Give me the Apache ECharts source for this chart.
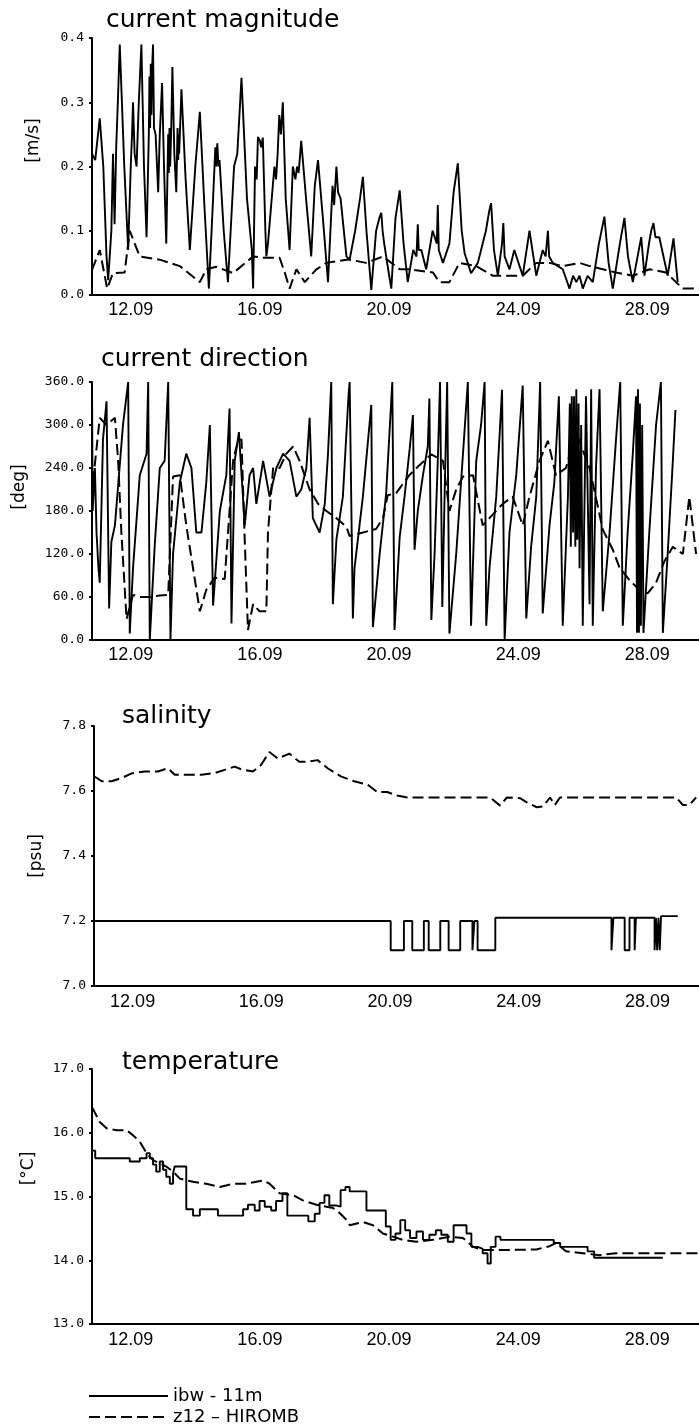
<!DOCTYPE html>
<html>
<head>
<meta charset="utf-8">
<script src="https://cdn.jsdelivr.net/npm/echarts@6/dist/echarts.min.js"></script>
<style>
html,body{margin:0;padding:0;background:#fff;}
#chart{width:699px;height:1425px;}
</style>
</head>
<body>
<div id="chart"></div>
<script>
// ---- axis / label data ----
const dayTicks = [12, 16, 20, 24, 28];          // September days labelled on x axes
const xMin = 10.8, xMax = 29.6;                 // day range of the time axis
const seriesNames = ['ibw - 11m', 'z12 – HIROMB'];
const panelTitles = ['current magnitude', 'current direction', 'salinity', 'temperature'];
const unitNames = ['[m/s]', '[deg]', '[psu]', '[°C]'];

// ---- current magnitude [m/s] : [day of Sept, value] ----
const magObs = [[10.8,0.0],[10.8,0.22],[10.9,0.21],[11.04,0.275],[11.15,0.2],[11.25,0.06],[11.3,0.023],[11.4,0.1],[11.45,0.22],[11.5,0.11],[11.55,0.23],[11.6,0.3],[11.66,0.39],[11.8,0.2],[11.92,0.07],[12.0,0.2],[12.04,0.25],[12.07,0.3],[12.12,0.22],[12.18,0.2],[12.25,0.3],[12.33,0.39],[12.41,0.2],[12.49,0.09],[12.56,0.25],[12.58,0.34],[12.6,0.26],[12.62,0.36],[12.64,0.28],[12.66,0.35],[12.69,0.39],[12.72,0.26],[12.77,0.25],[12.85,0.16],[12.9,0.25],[12.97,0.33],[13.03,0.2],[13.1,0.08],[13.16,0.25],[13.18,0.19],[13.2,0.26],[13.22,0.2],[13.25,0.25],[13.29,0.355],[13.35,0.22],[13.41,0.16],[13.45,0.26],[13.47,0.21],[13.49,0.25],[13.5,0.22],[13.57,0.32],[13.7,0.18],[13.83,0.07],[14.0,0.2],[14.14,0.285],[14.28,0.14],[14.42,0.01],[14.55,0.15],[14.62,0.23],[14.65,0.2],[14.68,0.236],[14.72,0.2],[14.75,0.21],[14.88,0.1],[15.01,0.02],[15.2,0.2],[15.3,0.22],[15.43,0.338],[15.6,0.15],[15.75,0.07],[15.79,0.01],[15.85,0.2],[15.9,0.18],[15.94,0.246],[16.0,0.24],[16.04,0.23],[16.09,0.245],[16.17,0.1],[16.2,0.06],[16.25,0.08],[16.45,0.2],[16.5,0.18],[16.55,0.22],[16.6,0.28],[16.65,0.25],[16.71,0.3],[16.8,0.15],[16.92,0.07],[17.02,0.2],[17.1,0.18],[17.15,0.2],[17.2,0.19],[17.28,0.24],[17.43,0.15],[17.59,0.06],[17.7,0.17],[17.8,0.21],[17.95,0.12],[18.11,0.02],[18.25,0.17],[18.3,0.14],[18.37,0.2],[18.42,0.16],[18.5,0.15],[18.68,0.06],[18.78,0.055],[18.95,0.1],[19.1,0.15],[19.19,0.184],[19.3,0.1],[19.45,0.008],[19.6,0.1],[19.7,0.12],[19.76,0.128],[19.8,0.1],[19.85,0.08],[19.96,0.044],[20.07,0.01],[20.2,0.12],[20.33,0.163],[20.45,0.08],[20.58,0.02],[20.75,0.07],[20.85,0.06],[20.89,0.11],[20.92,0.07],[21.0,0.07],[21.15,0.04],[21.35,0.1],[21.48,0.08],[21.51,0.14],[21.54,0.07],[21.56,0.07],[21.67,0.05],[21.87,0.08],[22.0,0.16],[22.13,0.205],[22.25,0.1],[22.34,0.065],[22.54,0.034],[22.75,0.05],[23.0,0.1],[23.1,0.13],[23.16,0.143],[23.25,0.07],[23.37,0.03],[23.5,0.08],[23.54,0.112],[23.58,0.06],[23.73,0.04],[23.88,0.07],[24.14,0.03],[24.35,0.1],[24.56,0.03],[24.76,0.07],[24.85,0.06],[24.92,0.1],[24.96,0.06],[25.07,0.05],[25.38,0.04],[25.59,0.01],[25.7,0.03],[25.8,0.02],[25.9,0.03],[26.0,0.01],[26.15,0.03],[26.31,0.02],[26.5,0.08],[26.67,0.122],[26.8,0.05],[26.93,0.01],[27.15,0.08],[27.29,0.12],[27.4,0.06],[27.55,0.02],[27.81,0.09],[27.91,0.03],[28.05,0.08],[28.12,0.1],[28.19,0.112],[28.25,0.09],[28.37,0.09],[28.63,0.03],[28.81,0.088],[28.94,0.02]];
const magModel = [[10.8,0.039],[11.04,0.07],[11.27,0.01],[11.45,0.034],[11.81,0.035],[11.97,0.1],[12.28,0.06],[12.9,0.055],[13.52,0.045],[14.14,0.02],[14.34,0.04],[14.65,0.044],[15.17,0.034],[15.79,0.06],[16.09,0.058],[16.3,0.058],[16.61,0.058],[16.77,0.035],[16.92,0.01],[17.13,0.04],[17.39,0.02],[17.75,0.04],[18.06,0.05],[18.68,0.055],[18.78,0.055],[19.29,0.05],[19.81,0.06],[20.33,0.04],[20.64,0.04],[21.36,0.035],[21.56,0.02],[21.87,0.02],[22.18,0.05],[22.7,0.045],[23.21,0.03],[23.52,0.03],[24.14,0.03],[24.56,0.05],[24.97,0.05],[25.38,0.045],[25.9,0.05],[26.21,0.045],[26.62,0.04],[27.03,0.035],[27.55,0.03],[28.07,0.04],[28.58,0.035],[28.89,0.02],[29.1,0.01],[29.6,0.01]];

// ---- current direction [deg] ----
const dirObs = [[10.8,360],[10.82,180],[10.89,240],[10.94,150],[11.0,100],[11.04,80],[11.14,280],[11.25,333],[11.33,44],[11.4,137],[11.51,160],[11.76,300],[11.92,360],[11.97,9],[12.07,100],[12.28,230],[12.49,260],[12.54,360],[12.59,0],[12.74,130],[12.9,240],[13.05,250],[13.16,360],[13.23,0],[13.31,120],[13.52,220],[13.72,260],[13.88,240],[14.03,150],[14.19,150],[14.34,220],[14.45,300],[14.55,48],[14.76,180],[14.96,230],[15.06,323],[15.12,23],[15.22,250],[15.35,290],[15.53,160],[15.68,230],[15.79,240],[15.89,190],[16.1,250],[16.3,200],[16.51,240],[16.72,260],[16.92,250],[17.13,200],[17.28,210],[17.44,240],[17.54,310],[17.64,170],[17.85,150],[18.01,190],[18.11,260],[18.21,360],[18.26,50],[18.37,140],[18.57,200],[18.75,345],[18.78,360],[18.88,30],[18.93,100],[19.19,200],[19.45,328],[19.5,18],[19.71,120],[19.91,204],[20.1,360],[20.17,14],[20.33,144],[20.48,200],[20.64,267],[20.74,314],[20.79,126],[20.89,180],[21.05,230],[21.2,270],[21.25,337],[21.31,28],[21.41,120],[21.51,250],[21.58,360],[21.65,46],[21.72,200],[21.8,360],[21.87,9],[22.08,120],[22.23,220],[22.44,360],[22.54,20],[22.7,250],[22.85,300],[22.96,360],[23.01,20],[23.11,100],[23.32,200],[23.5,349],[23.58,0],[23.73,150],[23.94,230],[24.14,355],[24.25,30],[24.4,130],[24.56,200],[24.68,360],[24.76,37],[24.97,160],[25.12,220],[25.26,340],[25.38,20],[25.54,200],[25.6,330],[25.63,130],[25.66,340],[25.7,150],[25.73,340],[25.77,130],[25.8,350],[25.83,140],[25.87,330],[25.9,100],[25.95,300],[26.0,20],[26.1,340],[26.21,50],[26.26,350],[26.31,20],[26.41,240],[26.52,350],[26.62,40],[26.83,150],[27.03,280],[27.16,360],[27.24,20],[27.39,150],[27.55,260],[27.65,340],[27.68,10],[27.71,350],[27.74,10],[27.77,330],[27.8,20],[27.84,300],[27.88,10],[28.06,150],[28.27,300],[28.42,360],[28.48,10],[28.63,120],[28.79,250],[28.87,321]];
const dirModel = [[10.83,220],[11.04,310],[11.25,300],[11.51,310],[11.61,250],[11.71,150],[11.87,29],[12.07,63],[12.28,60],[12.59,60],[12.9,62],[13.16,63],[13.31,228],[13.52,230],[13.72,160],[13.93,100],[14.14,40],[14.34,70],[14.6,87],[14.91,85],[15.17,250],[15.32,278],[15.43,280],[15.53,140],[15.63,14],[15.79,50],[15.99,40],[16.2,40],[16.25,150],[16.41,240],[16.61,240],[16.82,260],[17.03,270],[17.23,250],[17.54,210],[17.8,190],[18.06,180],[18.37,170],[18.68,158],[18.78,145],[19.6,155],[19.81,170],[19.96,202],[20.22,205],[20.63,230],[20.94,244],[21.31,259],[21.67,250],[21.87,180],[22.08,210],[22.29,228],[22.6,230],[22.9,160],[23.11,170],[23.52,190],[23.83,200],[24.14,160],[24.35,200],[24.66,250],[24.92,278],[25.17,230],[25.48,240],[25.79,290],[26.21,240],[26.62,154],[26.93,126],[27.13,102],[27.44,84],[27.75,70],[28.01,65],[28.27,80],[28.53,110],[28.79,130],[29.1,120],[29.3,200],[29.51,120]];

// ---- salinity [psu] (observations are stepped: segment start, value) ----
const salObs = [[10.8,7.2],[20.02,7.11],[20.43,7.2],[20.69,7.11],[21.05,7.2],[21.2,7.11],[21.56,7.2],[21.82,7.11],[22.18,7.2],[22.56,7.11],[22.62,7.2],[22.72,7.11],[23.27,7.21],[26.88,7.11],[26.94,7.21],[27.29,7.11],[27.44,7.21],[27.6,7.11],[27.64,7.21],[28.22,7.11],[28.26,7.21],[28.3,7.11],[28.34,7.21],[28.38,7.11],[28.42,7.215],[28.94,7.215]];
const salModel = [[10.8,7.645],[10.89,7.64],[11.04,7.63],[11.35,7.63],[11.66,7.64],[11.97,7.654],[12.38,7.66],[12.79,7.66],[13.1,7.67],[13.31,7.65],[13.72,7.65],[14.14,7.65],[14.55,7.655],[14.86,7.665],[15.17,7.675],[15.37,7.667],[15.74,7.66],[15.99,7.68],[16.25,7.72],[16.51,7.70],[16.87,7.715],[17.18,7.69],[17.44,7.69],[17.75,7.695],[18.06,7.67],[18.47,7.645],[18.88,7.63],[19.3,7.62],[19.6,7.597],[19.91,7.597],[20.22,7.586],[20.53,7.58],[22.49,7.58],[23.11,7.58],[23.42,7.555],[23.63,7.58],[24.04,7.578],[24.25,7.565],[24.56,7.55],[24.76,7.553],[24.97,7.58],[25.12,7.557],[25.28,7.58],[28.89,7.58],[29.1,7.557],[29.3,7.557],[29.51,7.58]];

// ---- temperature [°C] (observations are stepped: segment start, value) ----
const tempObs = [[10.8,15.72],[10.9,15.6],[11.97,15.55],[12.28,15.6],[12.49,15.68],[12.59,15.6],[12.69,15.5],[12.79,15.39],[12.9,15.55],[13.0,15.42],[13.1,15.31],[13.21,15.2],[13.31,15.36],[13.36,15.47],[13.72,14.8],[13.93,14.7],[14.14,14.8],[14.7,14.7],[15.48,14.8],[15.63,14.87],[15.84,14.78],[15.99,14.93],[16.15,14.84],[16.35,14.78],[16.5,14.93],[16.7,15.05],[16.85,14.7],[17.5,14.61],[17.7,14.73],[17.85,14.9],[18.0,15.02],[18.15,14.86],[18.35,14.84],[18.5,15.1],[18.65,15.15],[18.78,15.08],[19.3,14.78],[19.9,14.53],[20.05,14.32],[20.2,14.42],[20.35,14.63],[20.5,14.47],[20.65,14.35],[20.85,14.45],[21.05,14.32],[21.25,14.4],[21.45,14.47],[21.62,14.4],[21.82,14.29],[22.0,14.55],[22.4,14.42],[22.55,14.21],[22.75,14.18],[22.9,14.11],[23.05,13.95],[23.15,14.21],[23.3,14.37],[23.45,14.32],[25.1,14.27],[25.3,14.21],[26.15,14.14],[26.35,14.04],[28.48,14.04]];
const tempModel = [[10.8,16.4],[11.04,16.17],[11.25,16.07],[11.56,16.04],[11.87,16.04],[12.07,15.96],[12.28,15.86],[12.49,15.68],[12.69,15.57],[12.9,15.52],[13.1,15.47],[13.31,15.39],[13.52,15.28],[13.93,15.23],[14.34,15.2],[14.76,15.15],[15.17,15.2],[15.58,15.2],[16.1,15.25],[16.3,15.2],[16.61,15.05],[17.03,15.02],[17.33,14.94],[17.75,14.87],[18.26,14.82],[18.47,14.74],[18.73,14.61],[18.78,14.55],[19.19,14.6],[19.5,14.55],[19.81,14.42],[20.12,14.37],[20.43,14.32],[20.84,14.29],[21.36,14.32],[21.87,14.37],[22.29,14.35],[22.6,14.21],[22.9,14.16],[23.63,14.16],[24.56,14.17],[24.97,14.22],[25.17,14.27],[25.48,14.14],[26.0,14.11],[26.52,14.08],[27.03,14.11],[29.6,14.11]];

// ---- y-axis ranges ----
const yRanges = [
  {min: 0, max: 0.4, interval: 0.1},
  {min: 0, max: 360, interval: 60},
  {min: 7.0, max: 7.8, interval: 0.2},
  {min: 13, max: 17, interval: 1}
];

// ---- layout ----
const grids = [
  {left: 92, top: 38, width: 607, height: 257},
  {left: 92, top: 382, width: 607, height: 258},
  {left: 94, top: 726, width: 605, height: 260},
  {left: 92, top: 1069, width: 607, height: 255}
];
const titlePos = [{left: 106, top: 8}, {left: 101, top: 347}, {left: 122, top: 704}, {left: 122, top: 1050}];
const nameGaps = [50, 64, 49, 55];
const namePads = [[0,0,0,52], [0,0,0,48], [0,0,0,0], [0,0,0,56]];
const xLabelMargins = [6, 6, 7, 7];

const fmtDay = d => String(d).padStart(2, '0') + '.09';

const chart = echarts.init(document.getElementById('chart'), null, {renderer: 'canvas'});

const xAxes = grids.map((g, i) => ({
  gridIndex: i, type: 'value', min: xMin, max: xMax,
  axisLine: {show: true, onZero: false, lineStyle: {color: '#000', width: 2}},
  axisTick: {show: false},
  splitLine: {show: false},
  axisLabel: {customValues: dayTicks, formatter: fmtDay, color: '#000',
    fontFamily: 'Liberation Sans', fontSize: 18, margin: xLabelMargins[i]}
}));
const yAxes = grids.map((g, i) => ({
  gridIndex: i, type: 'value', min: yRanges[i].min, max: yRanges[i].max, interval: yRanges[i].interval,
  name: unitNames[i], nameLocation: 'middle', nameRotate: 90, nameGap: nameGaps[i],
  nameTextStyle: {fontFamily: 'DejaVu Sans', fontSize: 17, color: '#000', padding: namePads[i]},
  axisLine: {show: true, onZero: false, lineStyle: {color: '#000', width: 2}},
  axisTick: {show: true, length: 3, lineStyle: {color: '#000', width: 2}},
  splitLine: {show: false},
  axisLabel: {formatter: v => v.toFixed(1), color: '#000', fontFamily: 'DejaVu Sans Mono', fontSize: 13, margin: 8}
}));

const solidStyle = {color: '#000', width: 1.9, type: 'solid'};
const dashStyle = {color: '#000', width: 2, type: [11, 5]};
function mk(name, data, idx, style, step) {
  return {name, type: 'line', data, xAxisIndex: idx, yAxisIndex: idx,
    symbol: 'none', showSymbol: false, step: step || false, animation: false,
    lineStyle: style, itemStyle: {color: '#000'}, z: name === seriesNames[0] ? 3 : 2};
}

const legendRowTops = [1387, 1408];
const option = {
  backgroundColor: '#fff',
  animation: false,
  title: panelTitles.map((t, i) => ({text: t, left: titlePos[i].left, top: titlePos[i].top, padding: 0,
    textStyle: {fontFamily: 'DejaVu Sans', fontSize: 25, fontWeight: 'normal', color: '#000'}})),
  legend: seriesNames.map((n, i) => ({
    data: [n], orient: 'vertical', left: 88, top: legendRowTops[i], itemWidth: 79, itemHeight: 14,
    itemStyle: {opacity: 0},
    textStyle: {fontFamily: 'DejaVu Sans', fontSize: 18, color: '#000', lineHeight: 18}, padding: 0
  })),
  grid: grids,
  xAxis: xAxes,
  yAxis: yAxes,
  series: [
    mk(seriesNames[1], magModel, 0, dashStyle),
    mk(seriesNames[0], magObs, 0, solidStyle),
    mk(seriesNames[1], dirModel, 1, dashStyle),
    mk(seriesNames[0], dirObs, 1, solidStyle),
    mk(seriesNames[1], salModel, 2, dashStyle),
    mk(seriesNames[0], salObs, 2, solidStyle, 'end'),
    mk(seriesNames[1], tempModel, 3, dashStyle),
    mk(seriesNames[0], tempObs, 3, solidStyle, 'end')
  ]
};
chart.setOption(option);
</script>
</body>
</html>
